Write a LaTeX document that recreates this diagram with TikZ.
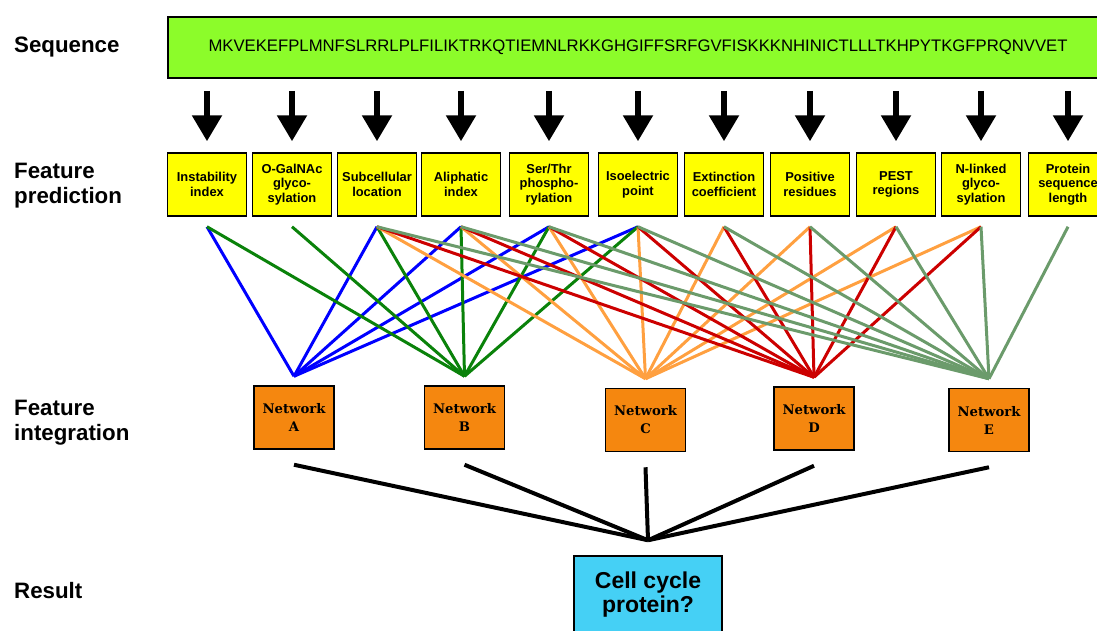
\documentclass[tikz,border=0pt]{standalone}
\usepackage{fontspec}
\setmainfont{Liberation Sans}
\newfontfamily\netfont{DejaVu Serif}
\usepackage{tikz}
\usetikzlibrary{arrows.meta}
\usetikzlibrary{positioning}
\usetikzlibrary{calc}
\definecolor{seqgreen}{HTML}{8CFC2A}
\definecolor{featyellow}{HTML}{FFFF00}
\definecolor{netorange}{HTML}{F5870F}
\definecolor{rescyan}{HTML}{45D0F5}
\definecolor{lnblue}{HTML}{0000FF}
\definecolor{lngreen}{HTML}{0A820A}
\definecolor{lnorange}{HTML}{FFA040}
\definecolor{lnred}{HTML}{CC0000}
\definecolor{lngray}{HTML}{6B9B6B}
\tikzstyle{rowlabel}=[anchor=west,align=left,inner sep=0pt,font=\fontsize{22.3}{25}\selectfont\bfseries]
\tikzstyle{seqbox}=[draw,line width=1.5pt,fill=seqgreen,minimum width=940pt,minimum height=61pt,inner sep=0pt,font=\fontsize{16.7}{18}\selectfont]
\tikzstyle{feature}=[draw,line width=1.5pt,fill=featyellow,minimum width=79pt,minimum height=63pt,inner sep=1pt,align=center,font=\fontsize{12.9}{14.5}\selectfont\bfseries]
\tikzstyle{network}=[draw,line width=1.5pt,fill=netorange,minimum width=80pt,minimum height=63pt,inner sep=1pt,align=center,font=\netfont\fontsize{13.2}{18}\selectfont\bfseries]
\tikzstyle{result}=[draw,line width=1.5pt,fill=rescyan,minimum width=148pt,minimum height=78pt,inner sep=1pt,align=center,font=\fontsize{23}{24}\selectfont\bfseries]
\tikzstyle{bigarrow}=[line width=5.5pt,-{Triangle[width=29pt,length=26pt]}]
\tikzstyle{link}=[line width=3pt]
\tikzstyle{merge}=[line width=4pt]

\begin{document}
\begin{tikzpicture}[x=1pt,y=-1pt]

  \useasboundingbox (0,0) rectangle (1097,630);

  % row titles
  \node[rowlabel] (lseq) at (14,47) {Sequence};
  \node[rowlabel] (lpred) at (14,186) {Feature\\prediction};
  \node[rowlabel] (lint) at (14,423) {Feature\\integration};
  \node[rowlabel] (lres) at (14,591) {Result};

  \node[seqbox] (seq) at (638,47.5) {MKVEKEFPLMNFSLRRLPLFILIKTRKQTIEMNLRKKGHGIFFSRFGVFISKKKNHINICTLLLTKHPYTKGFPRQNVVET};

  \foreach \x/\name/\lbl in {207/f1/{Instability\\index}, 292/f2/{O-GalNAc\\glyco-\\sylation},
      377/f3/{Subcellular\\location}, 461/f4/{Aliphatic\\index}, 549/f5/{Ser/Thr\\phospho-\\rylation},
      638/f6/{Isoelectric\\point}, 724/f7/{Extinction\\coefficient}, 810/f8/{Positive\\residues},
      896/f9/{PEST\\regions}, 981/f10/{N-linked\\glyco-\\sylation}, 1068/f11/{Protein\\sequence\\length}}
     \node[feature] (\name) at (\x,184.5) {\lbl};

  \foreach \i in {1,...,11}
     \draw[bigarrow] ($(seq.south -| f\i.north)+(0,12)$) -- ($(f\i.north)+(0,-11)$);

  \foreach \x/\y/\name/\lbl in {294/417.5/nA/A, 464.5/417.5/nB/B, 645.5/420/nC/C, 814/418.5/nD/D, 989/420/nE/E}
     \node[network] (\name) at (\x,\y) {Network\\\lbl};

  \node[result] (res) at (648,595) {Cell cycle\\protein?};

  % line ends
  \foreach \i in {1,...,11}
     \coordinate (t\i) at ($(f\i.south)+(0,10)$);
  \foreach \n in {A,B,C,D,E}
     \coordinate (b\n) at ($(n\n.north)+(0,-9)$);
  \coordinate (join) at ($(res.north)+(0,-15)$);

  \foreach \f in {1,3,4,5,6}
     \draw[link,lnblue] (t\f) -- (bA);
  \foreach \f in {1,...,6}
     \draw[link,lngreen] (t\f) -- (bB);
  \foreach \f in {3,...,10}
     \draw[link,lnorange] (t\f) -- (bC);
  \foreach \f in {3,...,10}
     \draw[link,lnred] (t\f) -- (bD);
  \foreach \f in {3,...,11}
     \draw[link,lngray] (t\f) -- (bE);

  \foreach \n in {A,B,C,D,E}
     \draw[merge] ($(n\n.south)+(0,15)$) -- (join);

\end{tikzpicture}
\end{document}
